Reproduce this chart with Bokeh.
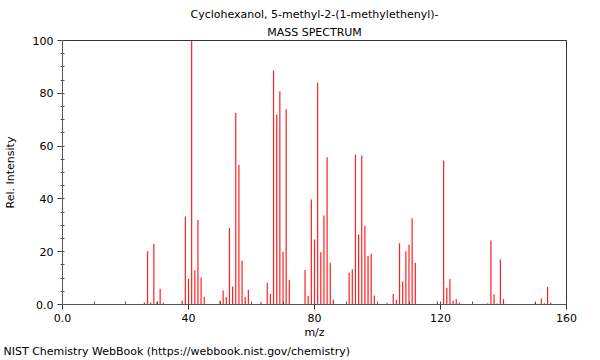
from bokeh.plotting import figure
from bokeh.models import Range1d, FixedTicker, Title
from bokeh.embed import file_html
from bokeh.resources import INLINE

title_line1 = "Cyclohexanol, 5-methyl-2-(1-methylethenyl)-"
title_line2 = "MASS SPECTRUM"
footer = "NIST Chemistry WebBook (https://webbook.nist.gov/chemistry)"

mz = [26, 27, 28, 29, 30, 31, 32, 38, 39, 40, 41, 42, 43, 44, 45,
      50, 51, 52, 53, 54, 55, 56, 57, 58, 59, 63, 65, 66, 67, 68, 69, 70, 71, 72,
      77, 78, 79, 80, 81, 82, 83, 84, 85, 86,
      91, 92, 93, 94, 95, 96, 97, 98, 99, 103, 105, 106, 107, 108, 109, 110, 111, 112,
      119, 121, 122, 123, 124, 125, 126, 135, 136, 137, 138, 139, 140,
      150, 152, 153, 154, 155]
intensity = [0.8, 20.2, 0.8, 23.0, 1.0, 6.0, 0.6, 1.5, 33.3, 9.8, 100.0, 12.9, 32.0, 10.2, 2.8,
             1.5, 5.3, 2.8, 29.0, 6.8, 72.5, 52.8, 16.7, 2.8, 5.6, 1.0, 8.2, 4.0, 88.6, 72.0, 80.8, 20.0, 74.0, 9.3,
             13.1, 3.2, 39.8, 24.6, 84.0, 19.8, 33.7, 55.8, 15.8, 1.8,
             12.0, 13.3, 56.8, 26.5, 56.4, 29.7, 18.4, 19.2, 3.4, 0.6, 4.0, 1.8, 23.2, 8.7, 20.2, 22.6, 32.7, 15.8,
             1.1, 54.5, 6.3, 9.7, 1.5, 2.1, 0.8, 0.5, 24.2, 3.8, 0.4, 17.0, 2.1,
             0.5, 2.3, 0.5, 6.6, 0.8]

x_major = [0, 40, 80, 120, 160]
x_minor = list(range(0, 161, 10))
y_major = [0, 20, 40, 60, 80, 100]
y_minor = list(range(0, 101, 5))

FONT = "DejaVu Sans"

p = figure(width=600, height=360, output_backend="svg", toolbar_location=None,
           x_range=Range1d(0, 160), y_range=Range1d(0, 100),
           min_border_left=62, min_border_right=34, min_border_top=40, min_border_bottom=56)

p.title.text = title_line1
p.title.align = "center"
p.title.text_font = FONT
p.title.text_font_size = "11px"
p.title.text_font_style = "normal"
p.title.text_color = "#000000"
p.title.standoff = 3

t2 = Title(text=title_line2, align="center", text_font=FONT, text_font_size="11px",
           text_font_style="normal", text_color="#000000", standoff=3)
p.add_layout(t2, "above")

p.segment(x0=mz, y0=[0] * len(mz), x1=mz, y1=intensity, line_color="#ff2020", line_width=1.2)

p.xgrid.visible = False
p.ygrid.visible = False
p.outline_line_color = "#333333"
p.outline_line_width = 1

p.xaxis.ticker = FixedTicker(ticks=x_major, minor_ticks=x_minor)
p.yaxis.ticker = FixedTicker(ticks=y_major, minor_ticks=y_minor)
p.xaxis.major_label_overrides = {0: "0.0"}
p.yaxis.major_label_overrides = {0: "0.0"}

for ax in (p.xaxis, p.yaxis):
    ax.axis_line_color = "#555555"
    ax.major_tick_line_color = "#333333"
    ax.minor_tick_line_color = "#555555"
    ax.major_label_text_font = FONT
    ax.major_label_text_font_size = "11px"
    ax.major_label_text_color = "#000000"
    ax.axis_label_text_font = FONT
    ax.axis_label_text_font_size = "11px"
    ax.axis_label_text_font_style = "normal"
    ax.axis_label_text_color = "#000000"
    ax.major_tick_out = 5
    ax.major_tick_in = 0

p.xaxis.minor_tick_in = 3
p.xaxis.minor_tick_out = 0
p.yaxis.minor_tick_in = 2
p.yaxis.minor_tick_out = 2
p.xaxis.major_label_standoff = 4
p.yaxis.major_label_standoff = 4
p.xaxis.axis_label = "m/z"
p.yaxis.axis_label = "Rel. Intensity"
p.xaxis.axis_label_standoff = 1
p.yaxis.axis_label_standoff = 13

foot = Title(text=footer, align="left", offset=-59, text_font=FONT,
             text_font_size="11px", text_font_style="normal", text_color="#000000",
             standoff=2)
p.add_layout(foot, "below")

open("out.html", "w").write(file_html(p, INLINE))
